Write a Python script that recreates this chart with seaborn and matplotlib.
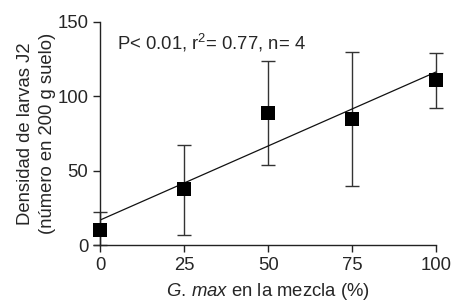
import numpy as np
import pandas as pd
import matplotlib
matplotlib.use('Agg')
import matplotlib.pyplot as plt
import seaborn as sns

# ── data ─────────────────────────────────────────────────────────────────────
gmax_pct   = [0, 25, 50, 75, 100]
larvas     = [10, 38, 89, 85, 111]
err_low    = [0, 7, 54, 40, 92]
err_high   = [22, 67, 124, 130, 129]
x_ticks    = [0, 25, 50, 75, 100]
y_ticks    = [0, 50, 100, 150]
stats_text = 'P< 0.01, r$^2$= 0.77, n= 4'

df = pd.DataFrame({'gmax': gmax_pct, 'larvas': larvas,
                   'lo': err_low, 'hi': err_high})

# ── style ────────────────────────────────────────────────────────────────────
sns.set_style('ticks')
plt.rcParams['font.family'] = ['Liberation Sans', 'DejaVu Sans']
plt.rcParams['mathtext.fontset'] = 'custom'
plt.rcParams['mathtext.rm'] = 'Liberation Sans'
plt.rcParams['mathtext.it'] = 'Liberation Sans:italic'
txt_col = '#262626'
fs = 13.3

fig = plt.figure(figsize=(4.51, 3.01), dpi=100)
ax = fig.add_axes([0.222, 0.186, 0.745, 0.741])

# error bars
yerr = np.array([df['larvas'] - df['lo'], df['hi'] - df['larvas']])
ax.errorbar(df['gmax'], df['larvas'], yerr=yerr, fmt='none',
            ecolor='#333333', elinewidth=1.0, capsize=5, capthick=1.0,
            clip_on=False, zorder=2)

# regression line
sns.regplot(data=df, x='gmax', y='larvas', ax=ax, scatter=False, ci=None,
            truncate=True, line_kws={'color': '#111111', 'lw': 0.9})

# markers
sns.scatterplot(data=df, x='gmax', y='larvas', ax=ax, marker='s', s=110,
                color='black', edgecolor='black', linewidth=0,
                clip_on=False, zorder=4)

ax.set_xlim(0, 100)
ax.set_ylim(0, 150)
ax.set_xticks(x_ticks)
ax.set_yticks(y_ticks)
ax.tick_params(axis='both', labelsize=fs, colors='#222222',
               labelcolor=txt_col, length=5, width=1.0, direction='out')
for s in ['left', 'bottom']:
    ax.spines[s].set_linewidth(1.0)
    ax.spines[s].set_color('#222222')
sns.despine(ax=ax)

ax.set_xlabel(r'$\mathit{G.\,max}$ en la mezcla (%)', fontsize=fs,
              color=txt_col, labelpad=5)
ax.set_ylabel('Densidad de larvas J2\n(número en 200 g suelo)',
              fontsize=fs, color=txt_col, labelpad=1, linespacing=1.35)

ax.text(5, 136, stats_text, fontsize=fs, color=txt_col,
        ha='left', va='center')

plt.savefig('out.png', dpi=100)
